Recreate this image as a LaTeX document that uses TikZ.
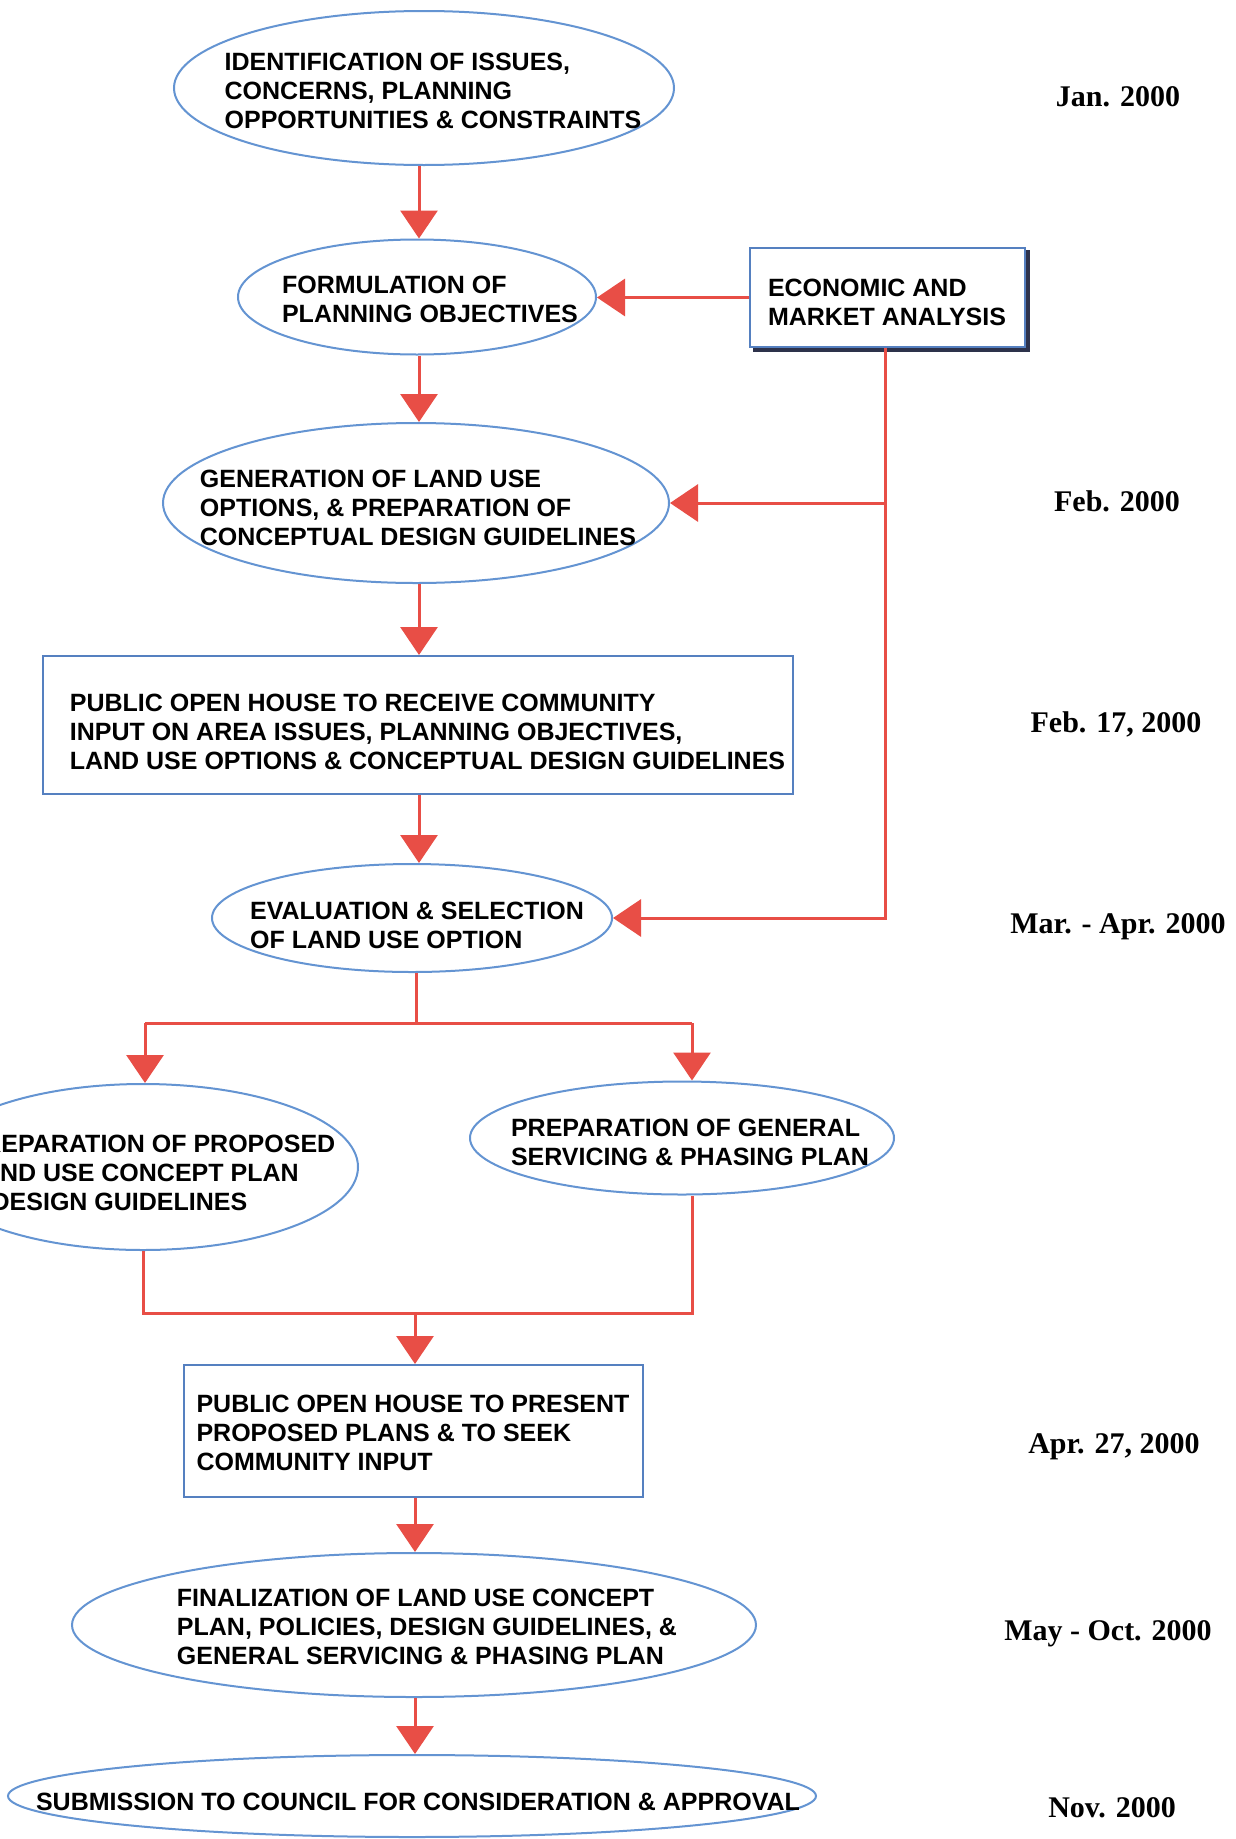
\documentclass[tikz,border=0pt]{standalone}
\usepackage{fontspec}
\setmainfont{Liberation Sans}
\newfontfamily\datefont{Liberation Serif}
\usetikzlibrary{arrows.meta,shapes.geometric,calc}
\definecolor{redline}{RGB}{232,78,70}
\definecolor{blueline}{RGB}{100,148,210}
\definecolor{boxline}{RGB}{85,128,192}
\definecolor{shadowc}{RGB}{45,50,75}
\begin{document}
\begin{tikzpicture}[x=1pt,y=-1pt,
  oval/.style={draw=blueline, line width=2pt, ellipse, inner sep=0pt, fill=white},
  rbox/.style={draw=boxline, line width=2pt, rectangle, inner sep=0pt, fill=white},
  lbl/.style={font=\fontsize{25}{29}\selectfont\bfseries, align=left, inner sep=0pt, text=black},
  datelbl/.style={font=\datefont\fontsize{30}{34}\selectfont\bfseries, inner sep=0pt, text height=20pt, text depth=0pt},
  link/.style={draw=redline, line width=3pt},
  arr/.style={link, -{Triangle[length=28pt,width=37pt]}}
]
\useasboundingbox (0,0) rectangle (1235,1839);
\fill[white] (0,0) rectangle (1235,1839);
\clip (0,0) rectangle (1235,1839);

% shapes
\node[oval, minimum width=500pt, minimum height=154pt] (E1) at (424,88) {};
\node[lbl] (E1t) at (433,91) {IDENTIFICATION OF ISSUES,\\CONCERNS, PLANNING\\OPPORTUNITIES \& CONSTRAINTS};

\node[oval, minimum width=358pt, minimum height=115pt] (E2) at (417,297) {};
\node[lbl] (E2t) at (430,299) {FORMULATION OF\\PLANNING OBJECTIVES};

\node[rbox, minimum width=275pt, minimum height=99pt] (Econ) at (887.5,297.5) {};
\fill[shadowc] ($(Econ.north east)+(0,3)$) rectangle ($(Econ.south east)+(4,4)$);
\fill[shadowc] ($(Econ.south west)+(4,0)$) rectangle ($(Econ.south east)+(4,4)$);
\node[lbl] (Econt) at (887,302) {ECONOMIC AND\\MARKET ANALYSIS};

\node[oval, minimum width=506pt, minimum height=160pt] (E3) at (416,503) {};
\node[lbl] (E3t) at (418,508) {GENERATION OF LAND USE\\OPTIONS, \& PREPARATION OF\\CONCEPTUAL DESIGN GUIDELINES};

\node[rbox, minimum width=750pt, minimum height=138pt] (B1) at (418,725) {};
\node[lbl] (B1t) at (427.5,731.5) {PUBLIC OPEN HOUSE TO RECEIVE COMMUNITY\\INPUT ON AREA ISSUES, PLANNING OBJECTIVES,\\LAND USE OPTIONS \& CONCEPTUAL DESIGN GUIDELINES};

\node[oval, minimum width=400pt, minimum height=108pt] (E5) at (412,918) {};
\node[lbl] (E5t) at (417,925) {EVALUATION \& SELECTION\\OF LAND USE OPTION};

\node[oval, minimum width=430pt, minimum height=166pt] (E6) at (143,1167) {};
\node[lbl] (E6t) at (151,1173) {PREPARATION OF PROPOSED\\LAND USE CONCEPT PLAN\\\& DESIGN GUIDELINES};

\node[oval, minimum width=424pt, minimum height=113pt] (E7) at (682,1138) {};
\node[lbl] (E7t) at (690,1142.5) {PREPARATION OF GENERAL\\SERVICING \& PHASING PLAN};

\node[rbox, minimum width=459pt, minimum height=132pt] (B2) at (413.5,1431) {};
\node[lbl] (B2t) at (413,1433) {PUBLIC OPEN HOUSE TO PRESENT\\PROPOSED PLANS \& TO SEEK\\COMMUNITY INPUT};

\node[oval, minimum width=684pt, minimum height=144pt] (E8) at (414,1625) {};
\node[lbl] (E8t) at (427,1627) {FINALIZATION OF LAND USE CONCEPT\\PLAN, POLICIES, DESIGN GUIDELINES, \&\\GENERAL SERVICING \& PHASING PLAN};

\node[oval, minimum width=808pt, minimum height=82pt] (E9) at (412,1796) {};
\node[lbl] (E9t) at (418,1802) {SUBMISSION TO COUNCIL FOR CONSIDERATION \& APPROVAL};

% dates
\node[datelbl] (d1) at (1118,96) {Jan. 2000};
\node[datelbl] (d2) at (1117,501) {Feb. 2000};
\node[datelbl] (d3) at (1116,722) {Feb. 17, 2000};
\node[datelbl] (d4) at (1118,923) {Mar. - Apr. 2000};
\node[datelbl] (d5) at (1114,1443) {Apr. 27, 2000};
\node[datelbl] (d6) at (1108,1630) {May - Oct. 2000};
\node[datelbl] (d7) at (1112,1807) {Nov. 2000};

% helper coordinates
\coordinate (c1) at (419,0);
\coordinate (ev) at (885,0);
\coordinate (sp) at (416,1023);
\coordinate (c6) at (145,0);
\coordinate (c7) at (692,0);
\coordinate (mg) at (415,1313);

% connectors
\draw[arr] (E1.south -| c1) -- (E2.north -| c1);
\draw[arr] (E2.south -| c1) -- (E3.north -| c1);
\draw[arr] (E3.south -| c1) -- (B1.north -| c1);
\draw[arr] (B1.south -| c1) -- (E5.north -| c1);

\draw[arr] (Econ.west) -- (Econ.west -| E2.east);
\draw[arr] (Econ.south -| ev) |- (E5.east);
\draw[arr] (ev |- E3.east) -- (E3.east);

\draw[link] (E5.south -| sp) -- (sp);
\draw[link] (sp -| c6) -- (sp -| c7);
\draw[arr] (sp -| c6) -- (E6.north -| c6);
\draw[arr] (sp -| c7) -- (E7.north -| c7);

\draw[link] (E6.south) -- (E6.south |- mg) -- (mg -| c7) -- (E7.south -| c7);
\draw[arr] (mg) -- (B2.north -| mg);
\draw[arr] (B2.south -| mg) -- (E8.north -| mg);
\draw[arr] (E8.south -| mg) -- (E9.north -| mg);
\end{tikzpicture}
\end{document}
